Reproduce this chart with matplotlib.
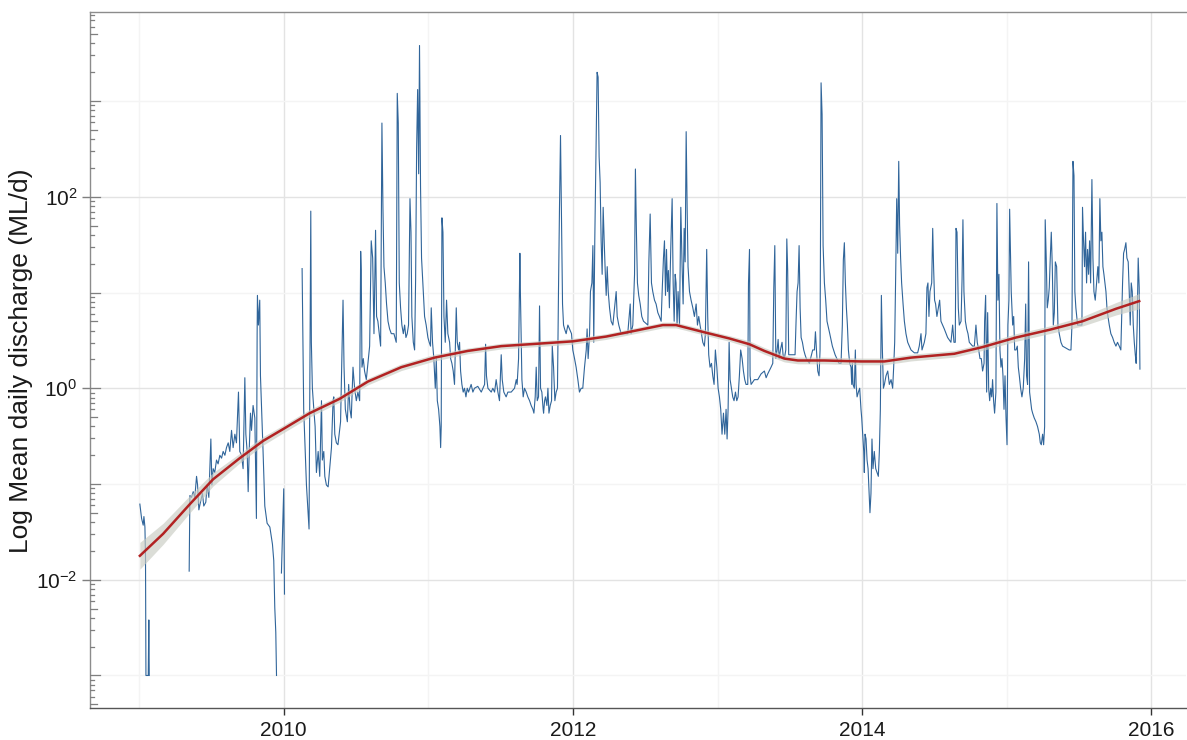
import numpy as np
import matplotlib
matplotlib.use("Agg")
import matplotlib.pyplot as plt

plt.rcParams['font.family'] = ['Liberation Sans', 'DejaVu Sans']
plt.rcParams['mathtext.default'] = 'regular'

flow_year = [
    2009.005, 2009.017, 2009.028, 2009.033, 2009.040, 2009.044, 2009.047, 2009.063, 2009.067, 2009.070,
    2009.200,
    2009.346, 2009.348, 2009.351, 2009.362, 2009.374, 2009.385, 2009.397, 2009.404, 2009.413, 2009.424,
    2009.438, 2009.447, 2009.461, 2009.470, 2009.482, 2009.496, 2009.503, 2009.512, 2009.523, 2009.535,
    2009.546, 2009.558, 2009.570, 2009.581, 2009.593, 2009.604, 2009.616, 2009.627, 2009.639, 2009.650,
    2009.662, 2009.673, 2009.687, 2009.696, 2009.708, 2009.719, 2009.731, 2009.738, 2009.747, 2009.754,
    2009.761, 2009.770, 2009.777, 2009.788, 2009.800, 2009.811, 2009.816, 2009.818, 2009.825, 2009.834,
    2009.839, 2009.848, 2009.857, 2009.869, 2009.885, 2009.904, 2009.922, 2009.931, 2009.938, 2009.945,
    2009.950, 2009.967, 2009.984, 2009.991, 2010.000, 2010.005, 2010.060,
    2010.127, 2010.132, 2010.138, 2010.157, 2010.175, 2010.187, 2010.191, 2010.198, 2010.208, 2010.217,
    2010.226, 2010.238, 2010.249, 2010.261, 2010.267, 2010.277, 2010.284, 2010.295, 2010.307, 2010.318,
    2010.330, 2010.341, 2010.346, 2010.353, 2010.364,
    2010.375, 2010.393, 2010.410, 2010.417, 2010.426, 2010.440, 2010.449, 2010.458, 2010.467, 2010.479,
    2010.490, 2010.502, 2010.513, 2010.525, 2010.532, 2010.536, 2010.541, 2010.550, 2010.559, 2010.571,
    2010.582, 2010.594, 2010.605, 2010.615, 2010.624, 2010.635, 2010.642, 2010.651, 2010.663, 2010.670,
    2010.679, 2010.686, 2010.693, 2010.702, 2010.711, 2010.721, 2010.732, 2010.744, 2010.762, 2010.778,
    2010.785, 2010.792, 2010.799, 2010.808, 2010.817, 2010.827, 2010.836, 2010.845, 2010.854, 2010.863,
    2010.873, 2010.880, 2010.886, 2010.896, 2010.905, 2010.912, 2010.919, 2010.926, 2010.933, 2010.939,
    2010.946, 2010.953, 2010.962, 2010.974, 2010.985, 2010.997, 2011.006, 2011.015, 2011.020, 2011.029,
    2011.038, 2011.048, 2011.055, 2011.062, 2011.071, 2011.080, 2011.085, 2011.089, 2011.094, 2011.101,
    2011.108, 2011.117, 2011.126, 2011.135, 2011.147, 2011.154, 2011.163, 2011.172, 2011.181, 2011.193,
    2011.200, 2011.209, 2011.216, 2011.223, 2011.232, 2011.241, 2011.250, 2011.260, 2011.269, 2011.278,
    2011.296, 2011.308, 2011.319, 2011.342, 2011.366, 2011.389, 2011.396, 2011.402, 2011.412, 2011.435,
    2011.446, 2011.458, 2011.469, 2011.481, 2011.492, 2011.504, 2011.511, 2011.522, 2011.538, 2011.550,
    2011.573, 2011.596, 2011.608, 2011.614, 2011.624, 2011.633, 2011.637, 2011.647, 2011.656, 2011.665,
    2011.677, 2011.688, 2011.700, 2011.711, 2011.723, 2011.730, 2011.739, 2011.746, 2011.753, 2011.762,
    2011.769, 2011.776, 2011.785, 2011.794,
    2011.797, 2011.804, 2011.810, 2011.820, 2011.827, 2011.834, 2011.843, 2011.852, 2011.857, 2011.866,
    2011.875, 2011.884, 2011.893, 2011.900, 2011.907, 2011.914, 2011.921, 2011.928, 2011.935, 2011.942,
    2011.953, 2011.965, 2011.976, 2011.990, 2011.999, 2012.011, 2012.022, 2012.034, 2012.045, 2012.057,
    2012.068, 2012.080, 2012.092, 2012.098, 2012.105, 2012.115, 2012.121, 2012.131, 2012.138, 2012.144,
    2012.151, 2012.161, 2012.167, 2012.174, 2012.181, 2012.188, 2012.195, 2012.202, 2012.209, 2012.216,
    2012.223, 2012.230, 2012.237, 2012.244, 2012.253, 2012.264, 2012.276, 2012.299, 2012.306, 2012.317,
    2012.333, 2012.379, 2012.396, 2012.402, 2012.414, 2012.426, 2012.432, 2012.439, 2012.446, 2012.455,
    2012.465, 2012.476, 2012.488, 2012.518, 2012.525, 2012.534, 2012.543, 2012.552, 2012.564, 2012.575,
    2012.587, 2012.598, 2012.610, 2012.617, 2012.626, 2012.633, 2012.640, 2012.647, 2012.654, 2012.660,
    2012.667, 2012.677, 2012.686, 2012.693, 2012.700, 2012.707, 2012.713, 2012.720, 2012.727, 2012.737,
    2012.746, 2012.755, 2012.762, 2012.769, 2012.776, 2012.783, 2012.790, 2012.796, 2012.806, 2012.817,
    2012.829, 2012.840, 2012.852, 2012.861, 2012.870, 2012.879, 2012.889, 2012.898, 2012.909, 2012.916,
    2012.925, 2012.932, 2012.939, 2012.948, 2012.958, 2012.967, 2012.976, 2012.985, 2012.995, 2013.004,
    2013.013, 2013.022, 2013.031, 2013.041, 2013.050, 2013.059, 2013.066, 2013.073, 2013.080, 2013.087,
    2013.096, 2013.105, 2013.114, 2013.124, 2013.133, 2013.142, 2013.151, 2013.160, 2013.170, 2013.179,
    2013.188, 2013.197, 2013.209,
    2013.214, 2013.221, 2013.225, 2013.232, 2013.255, 2013.278, 2013.301, 2013.324, 2013.336, 2013.347,
    2013.370, 2013.382, 2013.389, 2013.396, 2013.403, 2013.412, 2013.419, 2013.426, 2013.435, 2013.446,
    2013.453, 2013.462, 2013.472, 2013.479, 2013.485, 2013.492, 2013.508, 2013.527, 2013.536, 2013.543,
    2013.550, 2013.557, 2013.564, 2013.571, 2013.578, 2013.587, 2013.596, 2013.605, 2013.614, 2013.635,
    2013.658, 2013.670, 2013.677, 2013.684, 2013.693, 2013.702, 2013.709, 2013.716, 2013.723, 2013.730,
    2013.739, 2013.748, 2013.757, 2013.776, 2013.794, 2013.813, 2013.840, 2013.854, 2013.863, 2013.870,
    2013.877, 2013.884, 2013.891, 2013.898, 2013.905, 2013.914, 2013.923, 2013.928, 2013.932, 2013.937,
    2013.946, 2013.953, 2013.958, 2013.965, 2013.974, 2013.983, 2013.992, 2013.997, 2014.004, 2014.011,
    2014.015, 2014.020, 2014.027, 2014.034, 2014.041, 2014.048, 2014.054, 2014.061, 2014.068, 2014.075,
    2014.084, 2014.094, 2014.103, 2014.112, 2014.119, 2014.126, 2014.133, 2014.140, 2014.147, 2014.154,
    2014.165, 2014.177, 2014.188, 2014.200, 2014.211, 2014.218, 2014.225, 2014.232, 2014.239, 2014.246,
    2014.253, 2014.259, 2014.266, 2014.273, 2014.283, 2014.292, 2014.303, 2014.315, 2014.338, 2014.361,
    2014.384, 2014.395, 2014.407, 2014.414, 2014.430, 2014.441, 2014.448, 2014.455, 2014.462, 2014.469,
    2014.481, 2014.488, 2014.494, 2014.501, 2014.508, 2014.517, 2014.527, 2014.536, 2014.545, 2014.568,
    2014.591, 2014.614,
    2014.626, 2014.635, 2014.644, 2014.649, 2014.656, 2014.665, 2014.672, 2014.684, 2014.691, 2014.697,
    2014.704, 2014.714, 2014.723, 2014.732, 2014.741, 2014.764, 2014.776, 2014.787, 2014.796, 2014.806,
    2014.815, 2014.824, 2014.833, 2014.843, 2014.847, 2014.854, 2014.861, 2014.868, 2014.875, 2014.882,
    2014.889, 2014.896, 2014.902, 2014.909, 2014.916, 2014.925, 2014.932, 2014.939, 2014.946, 2014.953,
    2014.960, 2014.967, 2014.974, 2014.981, 2014.988, 2014.995, 2015.002, 2015.008, 2015.015, 2015.020,
    2015.025, 2015.031, 2015.041, 2015.048, 2015.055, 2015.064, 2015.073, 2015.080, 2015.087, 2015.096,
    2015.105, 2015.114, 2015.124, 2015.131, 2015.137, 2015.144, 2015.151, 2015.158, 2015.165, 2015.172,
    2015.179, 2015.190, 2015.202, 2015.213, 2015.225, 2015.232, 2015.239, 2015.248, 2015.255, 2015.262,
    2015.266, 2015.273, 2015.280, 2015.287, 2015.294, 2015.301, 2015.308, 2015.315, 2015.322, 2015.329,
    2015.336, 2015.345, 2015.354, 2015.363, 2015.375, 2015.386, 2015.409, 2015.432, 2015.444, 2015.451,
    2015.458, 2015.465, 2015.471, 2015.478, 2015.490, 2015.513, 2015.520, 2015.524, 2015.531, 2015.538,
    2015.545, 2015.552, 2015.559, 2015.566, 2015.573, 2015.580, 2015.589, 2015.596, 2015.603, 2015.612,
    2015.621, 2015.630, 2015.637, 2015.644, 2015.651, 2015.658, 2015.665, 2015.672, 2015.679, 2015.686,
    2015.693, 2015.700, 2015.709, 2015.720, 2015.732, 2015.743, 2015.755, 2015.766, 2015.778, 2015.789,
    2015.801, 2015.808, 2015.815, 2015.824, 2015.831, 2015.840, 2015.847, 2015.854, 2015.861, 2015.868,
    2015.875, 2015.882, 2015.889, 2015.895, 2015.902, 2015.909, 2015.916, 2015.921,
]
flow_log = [
    -1.21, -1.36, -1.43, -1.34, -1.45, -1.76, -3.00, -3.00, -2.42, -3.00,
    None,
    -1.91, -1.58, -1.12, -1.14, -1.08, -1.14, -0.92, -1.01, -1.27, -1.19,
    -1.10, -1.23, -1.19, -1.01, -1.14, -0.53, -1.01, -0.84, -0.88, -0.75,
    -0.79, -0.70, -0.73, -0.66, -0.70, -0.62, -0.57, -0.66, -0.44, -0.62,
    -0.48, -0.57, -0.04, -0.66, -0.70, -0.84, 0.11, -0.48, -0.66, -1.08,
    -0.66, -0.26, -0.44, -0.18, -0.31, -1.36, 0.57, 0.97, 0.66, 0.92,
    0.13, -0.26, -0.66, -1.23, -1.41, -1.45, -1.63, -1.80, -2.29, -2.55,
    -3.00, None, -1.93, -1.54, -1.05, -2.15, None,
    1.25, 0.59, -0.22, -1.01, -1.47, 1.85, 0.48, 0.00, -0.22, -0.40,
    -0.88, -0.66, -0.92, -0.13, -0.75, -0.66, -0.92, -1.01, -1.03, -0.84,
    -0.62, -0.13, -0.09, -0.48, -0.57,
    -0.59, -0.35, 0.92, 0.22, -0.22, -0.35, 0.04, -0.22, -0.31, 0.22,
    0.00, -0.13, -0.04, -0.13, 1.43, 1.23, 0.22, 0.31, 0.18, 0.09,
    0.26, 0.44, 1.54, 1.36, 0.57, 1.65, 0.75, 0.70, 0.53, 0.44,
    2.77, 1.89, 1.27, 1.10, 0.88, 0.70, 0.62, 0.57, 0.57, 0.48,
    3.08, 2.77, 1.10, 0.84, 0.66, 0.57, 0.66, 0.53, 0.57, 0.66,
    1.98, 1.63, 0.75, 0.48, 0.40, 1.14, 2.51, 3.12, 2.24, 3.58,
    2.11, 1.36, 1.10, 0.75, 0.66, 0.53, 0.48, 0.44, 0.84, 0.48,
    0.31, 0.00, 0.31, -0.13, -0.22, -0.40, -0.62, -0.40, 1.78, 1.63,
    0.75, 0.48, 0.92, 0.57, 0.48, 0.31, 0.26, 0.18, 0.04, 0.84,
    0.48, 0.40, 0.48, 0.18, 0.04, -0.04, 0.00, -0.09, 0.00, -0.04,
    0.04, -0.04, 0.00, 0.02, -0.04, 0.04, 0.46, 0.13, 0.00, -0.04,
    0.00, -0.04, 0.09, -0.04, -0.13, 0.35, 0.09, -0.04, -0.09, -0.04,
    -0.04, 0.00, 0.09, 0.04, 0.31, 1.41, 0.97, 0.09, -0.09, 0.00,
    -0.04, -0.09, -0.13, -0.18, -0.22, -0.26, -0.09, 0.22, -0.13, -0.09,
    0.86, 0.00, -0.04, -0.22,
    -0.26, -0.13, -0.09, -0.18, 0.00, -0.26, -0.18, -0.13, 0.44, 0.22,
    -0.13, -0.04, 0.00, 1.01, 1.89, 2.64, 1.71, 0.88, 0.66, 0.62,
    0.57, 0.66, 0.62, 0.57, 0.40, 0.31, 0.22, 0.09, -0.04, 0.00,
    0.00, 0.22, 0.40, 0.62, 0.31, 0.57, 1.01, 1.10, 1.49, 0.48,
    1.54, 2.59, 3.30, 3.25, 2.42, 2.15, 1.54, 1.19, 1.89, 1.54,
    1.23, 0.97, 1.27, 1.01, 0.84, 0.70, 0.66, 1.01, 0.75, 0.66,
    0.57, 0.57, 0.88, 0.57, 0.66, 1.19, 2.29, 1.63, 1.10, 0.97,
    0.88, 0.75, 0.70, 0.66, 1.32, 1.82, 1.10, 1.01, 0.92, 0.88,
    0.79, 0.75, 0.70, 1.01, 1.36, 1.54, 0.97, 1.45, 1.01, 1.23,
    0.84, 1.49, 1.98, 1.10, 0.70, 1.19, 1.10, 0.66, 1.01, 0.66,
    1.89, 1.27, 0.88, 1.67, 1.32, 2.68, 1.85, 1.27, 1.01, 0.92,
    0.84, 0.75, 0.88, 0.66, 0.75, 0.66, 0.57, 0.48, 0.44, 0.57,
    1.45, 0.75, 0.35, 0.22, 0.26, 0.13, 0.04, 0.40, 0.22, 0.00,
    -0.09, -0.22, -0.48, -0.26, -0.48, -0.22, -0.53, -0.22, 0.48, 0.09,
    0.00, -0.09, -0.13, -0.04, -0.13, -0.09, 0.13, 0.40, 0.31, 0.18,
    0.09, 0.04, 0.04,
    1.10, 1.45, 0.13, 0.04, 0.09, 0.09, 0.15, 0.18, 0.11, 0.15,
    0.22, 0.26, 1.05, 1.49, 0.31, 0.40, 0.51, 0.31, 0.40, 0.48,
    0.35, 0.31, 0.40, 1.56, 1.23, 0.35, 0.35, 0.35, 0.35, 0.70,
    1.01, 1.10, 1.49, 0.84, 0.53, 0.48, 0.40, 0.35, 0.31, 0.26,
    0.40, 0.40, 0.59, 0.40, 0.18, 0.13, 0.40, 3.19, 2.86, 1.49,
    1.10, 0.92, 0.70, 0.57, 0.44, 0.35, 0.26, 0.26, 0.66, 1.34,
    1.52, 1.10, 0.84, 0.66, 0.40, 0.26, 0.22, 0.04, 0.26, 0.04,
    0.00, 0.40, 0.04, -0.09, -0.04, 0.00, -0.22, -0.31, -0.48, -0.66,
    -0.88, -0.48, -0.53, -0.75, -0.84, -1.10, -1.30, -1.10, -0.53, -0.84,
    -0.66, -0.84, -0.88, -0.92, -0.66, -0.22, 0.97, 0.40, 0.00, 0.04,
    0.13, 0.18, 0.04, 0.09, 0.00, 0.22, 0.48, 1.19, 1.98, 1.41,
    2.37, 1.71, 1.36, 1.10, 0.88, 0.70, 0.57, 0.48, 0.40, 0.37,
    0.37, 0.44, 0.57, 0.40, 0.48, 0.57, 1.05, 1.10, 0.75, 1.01,
    1.10, 1.67, 1.27, 0.92, 0.88, 0.75, 0.84, 0.92, 0.70, 0.62,
    0.53, 0.48,
    0.66, 0.48, 0.48, 1.67, 1.63, 0.84, 0.66, 0.70, 1.14, 1.76,
    1.01, 0.70, 0.62, 0.57, 0.48, 0.44, 0.44, 0.66, 0.48, 0.40,
    0.31, 0.31, 0.18, 0.26, 0.70, 0.97, -0.04, 0.79, 0.00, -0.13,
    0.00, -0.09, 0.09, -0.13, -0.26, -0.04, 1.93, 0.92, 1.19, 0.40,
    0.22, 0.31, 0.13, -0.22, 0.13, -0.31, -0.59, 0.66, 0.92, 1.87,
    1.45, 1.01, 0.66, 0.75, 0.40, 0.40, 0.44, 0.22, 0.13, 0.00,
    -0.09, 0.00, 0.31, 0.88, 0.13, 0.04, 1.32, -0.04, -0.13, -0.22,
    -0.26, -0.31, -0.35, -0.40, -0.48, -0.57, -0.59, -0.48, -0.59, -0.40,
    1.76, 1.36, 0.84, 0.92, 1.05, 1.36, 1.63, 1.27, 0.66, 0.79,
    1.32, 1.27, 0.66, 0.57, 0.48, 0.44, 0.42, 0.40, 0.40, 0.66,
    2.37, 2.22, 1.01, 0.84, 0.66, 0.66, 0.66, 1.89, 1.54, 1.27,
    1.63, 1.10, 1.45, 1.19, 1.54, 1.10, 2.18, 1.36, 1.01, 0.92,
    1.10, 1.27, 1.10, 1.98, 1.54, 1.63, 1.27, 1.19, 1.10, 1.01,
    0.84, 0.75, 0.66, 0.57, 0.53, 0.48, 0.44, 0.48, 0.44, 0.40,
    1.10, 1.41, 1.45, 1.52, 1.36, 1.32, 1.01, 0.66, 1.10, 1.01,
    0.66, 0.48, 0.35, 0.26, 0.66, 1.36, 1.05, 0.20,
]

# loess trend and its standard error (log10 units)
smooth_year = [2009.005, 2009.166, 2009.351, 2009.512, 2009.696, 2009.857, 2010.003, 2010.180,
               2010.387, 2010.582, 2010.813, 2011.043, 2011.273, 2011.504, 2011.803, 2011.999,
               2012.230, 2012.460, 2012.621, 2012.713, 2012.921, 2013.082, 2013.220, 2013.324,
               2013.462, 2013.555, 2013.739, 2013.992, 2014.154, 2014.338, 2014.637, 2014.833,
               2015.064, 2015.294, 2015.524, 2015.755, 2015.916]
smooth_log = [-1.75, -1.52, -1.21, -0.95, -0.73, -0.55, -0.42, -0.26,
              -0.11, 0.07, 0.22, 0.32, 0.39, 0.44, 0.47, 0.49,
              0.54, 0.61, 0.66, 0.66, 0.58, 0.52, 0.46, 0.39,
              0.31, 0.29, 0.29, 0.28, 0.28, 0.32, 0.36, 0.43,
              0.53, 0.61, 0.70, 0.83, 0.91]
smooth_se = [0.14, 0.11, 0.09, 0.07, 0.05, 0.045, 0.04, 0.04,
             0.035, 0.035, 0.035, 0.035, 0.03, 0.03, 0.03, 0.03,
             0.03, 0.03, 0.03, 0.03, 0.03, 0.03, 0.035, 0.035,
             0.035, 0.035, 0.035, 0.035, 0.035, 0.035, 0.035, 0.035,
             0.04, 0.04, 0.05, 0.065, 0.08]

year_ticks = [2010, 2012, 2014, 2016]
year_minor = [2009, 2011, 2013, 2015]

x = np.array(flow_year, dtype=float)
q = 10 ** np.array(flow_log, dtype=float)
sx = np.array(smooth_year)
sl = np.array(smooth_log)
se = np.array(smooth_se)

fig = plt.figure(figsize=(11.87, 7.40), dpi=100)
ax = fig.add_axes([0.0758, 0.0432, 0.9234, 0.9406])
ax.set_yscale('log')

ax.plot(x, q, color='#30659a', lw=0.8, zorder=2)
ax.fill_between(sx, 10 ** (sl - se), 10 ** (sl + se), color='#c9cbc2', alpha=0.65, lw=0, zorder=3)
ax.plot(sx, 10 ** sl, color='#b22222', lw=1.8, zorder=4)

ax.set_xlim(2008.66, 2016.24)
ax.set_ylim(10 ** -3.34, 10 ** 3.93)

# grid
ax.set_xticks(year_ticks)
ax.set_xticklabels([str(y) for y in year_ticks])
ax.set_xticks(year_minor, minor=True)
ax.set_yticks([1e-2, 1e0, 1e2])
ax.set_yticklabels(['$10^{-2}$', '$10^{0}$', '$10^{2}$'])
ax.set_yticks([1e-3, 1e-1, 1e1, 1e3], minor=True)
ax.set_yticklabels([], minor=True)
ax.grid(which='major', color='#e3e3e3', lw=1.0, zorder=0)
ax.grid(which='minor', color='#f4f4f4', lw=1.0, zorder=0)
ax.set_axisbelow(True)

ax.tick_params(axis='x', which='major', length=5, width=1, color='#333333',
               labelsize=15, labelcolor='#1a1a1a', pad=4)
ax.tick_params(axis='y', which='major', length=6, width=1, color='#7f7f7f',
               labelsize=15, labelcolor='#1a1a1a', pad=3)
ax.tick_params(which='minor', length=0)

# log ticks drawn inside the left axis
ytr = ax.get_yaxis_transform()
for dec in range(-4, 4):
    for m in range(1, 10):
        v = m * 10.0 ** dec
        if m == 1:
            ln = 0.009
        elif m == 5:
            ln = 0.006
        else:
            ln = 0.0035
        ax.plot([0, ln], [v, v], transform=ytr, color='#7f7f7f', lw=0.9, zorder=5)
ax.set_ylim(10 ** -3.34, 10 ** 3.93)

for side in ['top', 'left']:
    ax.spines[side].set_color('#8c8c8c')
    ax.spines[side].set_linewidth(1.0)
ax.spines['bottom'].set_color('#555555')
ax.spines['bottom'].set_linewidth(1.0)
ax.spines['right'].set_visible(False)

ax.set_ylabel('Log Mean daily discharge (ML/d)', fontsize=19, color='#1a1a1a')
ax.yaxis.set_label_coords(-0.052, 0.4986)

fig.savefig('out.png', dpi=100)
